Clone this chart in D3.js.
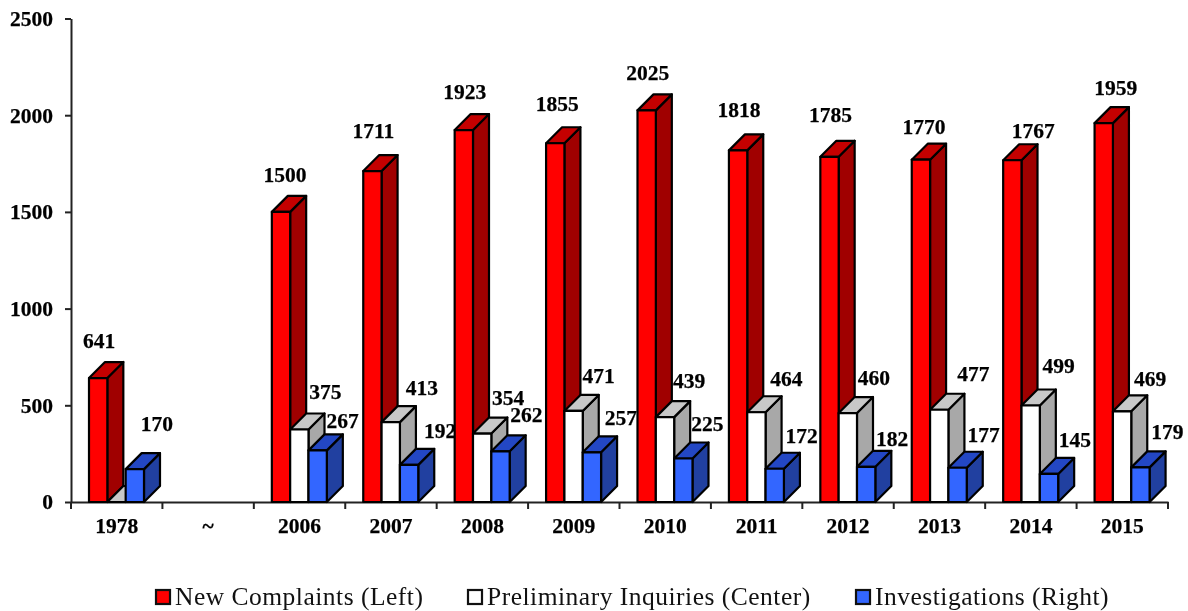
<!DOCTYPE html>
<html>
<head>
<meta charset="utf-8">
<script src="https://cdn.jsdelivr.net/npm/d3@7"></script>
<style>
    html, body { margin: 0; padding: 0; background: #fff; }
    svg { display: block; filter: blur(0.35px); }
    text { font-family: "Liberation Serif", "Times New Roman", serif; fill: #000; }
    .axis text, .value { font-size: 21.5px; font-weight: bold; stroke: #000; stroke-width: 0.25px; }
    .axis path, .axis line { stroke: #222; stroke-width: 2px; }
    .legend { font-size: 25.5px; letter-spacing: 0.5px; fill: #111; }
</style>
</head>
<body>
<svg id="chart" width="1188" height="611"></svg>
<script>
const categories = ["1978", "~", "2006", "2007", "2008", "2009", "2010", "2011", "2012", "2013", "2014", "2015"]
const newComplaints = [641, null, 1500, 1711, 1923, 1855, 2025, 1818, 1785, 1770, 1767, 1959]
const preliminaryInquiries = [0, null, 375, 413, 354, 471, 439, 464, 460, 477, 499, 469]
const investigations = [170, null, 267, 192, 262, 257, 225, 172, 182, 177, 145, 179]
const yTicks = [0, 500, 1000, 1500, 2000, 2500]
const seriesNames = ["New Complaints (Left)", "Preliminary Inquiries (Center)", "Investigations (Right)"]

// label nudges from the bar centre and top, the original placed them by hand
const redNudgeX = [1, 0, 4, 1, 1, 2, 1, 1, 1, 3, 21, 12]
const redNudgeY = [30, 0, 30, 33, 31, 32, 30, 33, 35, 26, 22, 28]
const whiteNudgeX = [0, 0, 26, 31, 26, 25, 24, 30, 26, 34, 28, 28]
const whiteNudgeY = [0, 0, 30, 27, 29, 28, 29, 26, 28, 29, 32, 25]
const blueNudgeX = [22, 0, 25, 31, 26, 29, 24, 27, 26, 26, 26, 27]
const blueNudgeY = [38, 0, 22, 27, 29, 27, 27, 26, 21, 26, 27, 28]
const nudgeX = [redNudgeX, whiteNudgeX, blueNudgeX]
const nudgeY = [redNudgeY, whiteNudgeY, blueNudgeY]

const depth = 16
const colors = [
    {front: "#ff0000", top: "#c40000", side: "#a00000"},
    {front: "#ffffff", top: "#c8c8c8", side: "#a8a8a8"},
    {front: "#3366ff", top: "#2347c4", side: "#2140a0"}
]

let svg = d3.select("#chart")
let xScale = d3.scaleBand().domain(categories).range([71, 1168])
let innerScale = d3.scaleBand().domain(d3.range(3)).range([18, 73])
let yScale = d3.scaleLinear().domain([0, 2500]).range([502, 18.5])

// axes
svg.append("g").attr("class", "axis")
    .attr("transform", "translate(71,0)")
    .call(d3.axisLeft(yScale).tickValues(yTicks).tickFormat(d3.format("d")).tickSize(6).tickSizeOuter(0).tickPadding(12))
svg.append("g").attr("class", "axis")
    .attr("transform", "translate(0,502)")
    .call(d3.axisBottom(xScale).tickSize(0).tickPadding(16))
// ticks on the band edges, not on the centres
svg.append("g").attr("class", "axis")
    .selectAll("line")
    .data(categories.concat("end"))
    .enter()
    .append("line")
    .attr("x1", function (d, i) { return 71 + i * xScale.step() })
    .attr("x2", function (d, i) { return 71 + i * xScale.step() })
    .attr("y1", 502)
    .attr("y2", 509)

const series = [newComplaints, preliminaryInquiries, investigations]

let groups = svg.selectAll(".cat")
    .data(categories)
    .enter()
    .append("g")
    .attr("class", "cat")
    .attr("transform", function (d) { return `translate(${xScale(d)},0)` })

groups.each(function (cat, c) {
    let g = d3.select(this)
    series.forEach(function (values, s) {
        let v = values[c]
        if (v === null) return
        let x0 = innerScale(s)
        let x1 = x0 + innerScale.bandwidth()
        let y0 = yScale(0)
        let y1 = yScale(v)
        let bar = g.append("g")
            .attr("stroke", "#000")
            .attr("stroke-width", 2.2)
            .attr("stroke-linejoin", "round")
        bar.append("path")
            .attr("fill", colors[s].side)
            .attr("d", `M${x1},${y1}L${x1 + depth},${y1 - depth}L${x1 + depth},${y0 - depth}L${x1},${y0}Z`)
        bar.append("path")
            .attr("fill", colors[s].top)
            .attr("d", `M${x0},${y1}L${x0 + depth},${y1 - depth}L${x1 + depth},${y1 - depth}L${x1},${y1}Z`)
        if (v > 0) {
            bar.append("rect")
                .attr("fill", colors[s].front)
                .attr("x", x0)
                .attr("y", y1)
                .attr("width", x1 - x0)
                .attr("height", y0 - y1)
        }
    })
})

// value labels go on top of all the bars
groups.each(function (cat, c) {
    let g = d3.select(this)
    series.forEach(function (values, s) {
        let v = values[c]
        if (!v) return
        g.append("text")
            .attr("class", "value")
            .attr("text-anchor", "middle")
            .attr("x", innerScale(s) + innerScale.bandwidth() / 2 + nudgeX[s][c])
            .attr("y", yScale(v) - nudgeY[s][c])
            .text(v)
    })
})

// legend
const legendX = [155, 467, 855]
seriesNames.forEach(function (d, i) {
    let lgnd = svg.append("g").attr("transform", `translate(${legendX[i]},589)`)
    lgnd.append("rect")
        .attr("x", 1).attr("y", 1)
        .attr("width", 14).attr("height", 14)
        .attr("fill", colors[i].front)
        .attr("stroke", "#111")
        .attr("stroke-width", 2.2)
    lgnd.append("text").attr("class", "legend").attr("x", 20).attr("y", 16).text(d)
})
</script>
</body>
</html>
